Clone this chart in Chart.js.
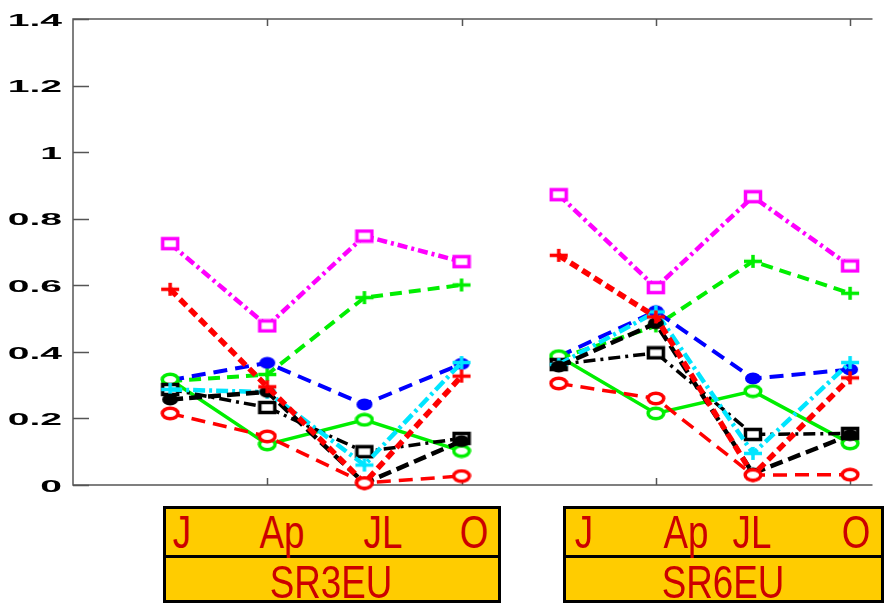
<!DOCTYPE html>
<html>
<head>
<meta charset="utf-8">
<script src="https://cdn.jsdelivr.net/npm/chart.js@4/dist/chart.umd.min.js"></script>
<style>
  html, body { margin: 0; padding: 0; background: #fff; }
  #wrap { position: relative; width: 884px; height: 606px; overflow: hidden; }
  #chart { position: absolute; left: 0; top: 0; }
  .box { position: absolute; background: #ffcc00; border: 3px solid #000; box-sizing: border-box; }
  .divider { position: absolute; left: 0; right: 0; height: 3px; background: #000; }
  .lbl { position: absolute; font-family: "Liberation Sans", Arial, sans-serif; font-size: 46px;
         line-height: 46px; color: #cc0000; white-space: nowrap;
         transform: translateX(-50%) scaleX(0.8); }
</style>
</head>
<body>
<div id="wrap">
  <canvas id="chart" width="884" height="606"></canvas>
</div>
<script>
// Sampling positions: four months per site, two sites side by side
const xPos = [1, 2, 3, 4, 5, 6, 7, 8];
const months = ['J', 'Ap', 'JL', 'O'];
const sites = ['SR3EU', 'SR6EU'];
const yTicks = [0, 0.2, 0.4, 0.6, 0.8, 1, 1.2, 1.4];
const xTicks = [2, 4, 6, 8];

// Series values (SR3EU months followed by SR6EU months)
const magentaSquare = [0.725, 0.478, 0.748, 0.671, 0.872, 0.593, 0.866, 0.658];
const redPlus       = [0.588, 0.295, 0.006, 0.327, 0.690, 0.505, 0.030, 0.322];
const greenPlus     = [0.312, 0.332, 0.563, 0.601, 0.380, 0.478, 0.672, 0.576];
const blueDot       = [0.315, 0.367, 0.242, 0.364, 0.386, 0.522, 0.320, 0.347];
const cyanPlus      = [0.287, 0.279, 0.060, 0.368, 0.362, 0.520, 0.095, 0.368];
const blackDot      = [0.257, 0.280, 0.005, 0.132, 0.356, 0.486, 0.035, 0.150];
const blackSquare   = [0.287, 0.233, 0.100, 0.140, 0.362, 0.397, 0.152, 0.155];
const greenCircle   = [0.317, 0.122, 0.196, 0.102, 0.387, 0.215, 0.282, 0.125];
const redCircle     = [0.215, 0.146, 0.006, 0.027, 0.305, 0.260, 0.030, 0.031];

// Marker glyphs drawn once on small canvases (slightly wide, like the plot)
function marker(kind, color) {
  const c = document.createElement('canvas');
  const w = 20, h = 15;
  c.width = w; c.height = h;
  const g = c.getContext('2d');
  g.strokeStyle = color; g.fillStyle = color; g.lineWidth = 3.5;
  if (kind === 'square') {
    g.fillStyle = '#fff';
    g.fillRect(2, 2, w - 4, h - 4);
    g.strokeRect(2.5, 2.5, w - 5, h - 5);
  } else if (kind === 'plus') {
    g.beginPath();
    g.moveTo(1, h / 2); g.lineTo(w - 1, h / 2);
    g.moveTo(w / 2, 1); g.lineTo(w / 2, h - 1);
    g.stroke();
  } else if (kind === 'dot') {
    g.beginPath();
    g.ellipse(w / 2, h / 2, 8, 6, 0, 0, Math.PI * 2);
    g.fill();
  } else if (kind === 'circle') {
    g.beginPath();
    g.ellipse(w / 2, h / 2, 7.8, 5.2, 0, 0, Math.PI * 2);
    g.fillStyle = '#fff';
    g.fill();
    g.stroke();
  }
  return c;
}

function series(values, color, kind, width, dash) {
  return {
    data: xPos.map((x, i) => ({ x: x, y: values[i] })),
    borderColor: color,
    borderWidth: width,
    borderDash: dash,
    pointStyle: marker(kind, color),
    pointRadius: 8,
    fill: false,
    tension: 0,
    clip: false,
    segment: {
      // the two sites are plotted as separate runs
      borderColor: ctx => ctx.p0DataIndex === 3 ? 'rgba(0,0,0,0)' : color
    }
  };
}

const datasets = [
  series(redCircle,     '#ff0000', 'circle', 3.5, [14, 8]),
  series(redPlus,       '#ff0000', 'plus',   5.5, [9, 5]),
  series(blackDot,      '#000000', 'dot',    4.5, [13, 6]),
  series(cyanPlus,      '#00e5ff', 'plus',   4.5, [12, 4, 3, 4]),
  series(blackSquare,   '#000000', 'square', 3.5, [12, 5, 3, 5]),
  series(greenCircle,   '#00ee00', 'circle', 3.5, []),
  series(blueDot,       '#0000ff', 'dot',    4,   [14, 8]),
  series(greenPlus,     '#00ee00', 'plus',   4,   [12, 7]),
  series(magentaSquare, '#ff00ff', 'square', 4.5, [10, 4, 3, 4])
];

// Frame, inward ticks and stretched bold tick labels
const framePlugin = {
  id: 'frame',
  beforeDatasetsDraw(chart) {
    const { ctx, chartArea: a, scales: { x, y } } = chart;
    ctx.save();
    ctx.strokeStyle = '#555';
    ctx.lineWidth = 1.5;
    ctx.beginPath();
    ctx.moveTo(a.right + 2, a.top); ctx.lineTo(a.left, a.top);
    ctx.lineTo(a.left, a.bottom); ctx.lineTo(a.right + 2, a.bottom);
    ctx.stroke();
    ctx.beginPath();
    yTicks.forEach(v => {
      const py = Math.round(y.getPixelForValue(v)) + 0.5;
      ctx.moveTo(a.left, py); ctx.lineTo(a.left + 16, py);
    });
    xTicks.forEach(v => {
      const px = Math.round(x.getPixelForValue(v)) + 0.5;
      ctx.moveTo(px, a.bottom); ctx.lineTo(px, a.bottom - 7);
      ctx.moveTo(px, a.top); ctx.lineTo(px, a.top + 7);
    });
    ctx.stroke();
    ctx.fillStyle = '#000';
    ctx.font = 'bold 17px "Liberation Sans", Arial, sans-serif';
    ctx.textAlign = 'right';
    ctx.textBaseline = 'middle';
    yTicks.forEach(v => {
      ctx.save();
      ctx.translate(a.left - 11, y.getPixelForValue(v) + 2);
      ctx.scale(2.3, 1);
      ctx.fillText(String(v), 0, 0);
      ctx.restore();
    });
    ctx.restore();
  }
};

new Chart(document.getElementById('chart'), {
  type: 'line',
  data: { datasets },
  options: {
    responsive: false,
    animation: false,
    devicePixelRatio: 1,
    layout: { padding: { left: 73, top: 19, right: 0, bottom: 121 } },
    plugins: { legend: { display: false }, tooltip: { enabled: false } },
    scales: {
      x: { type: 'linear', min: 0, max: 8.21, display: false },
      y: { type: 'linear', min: 0, max: 1.4, display: false }
    }
  },
  plugins: [framePlugin]
});

// Month / site label boxes under the plot
const wrap = document.getElementById('wrap');
const boxes = [
  { left: 163, width: 338, months: [182, 282, 383, 474], center: 331 },
  { left: 563, width: 321, months: [584, 686, 752, 856], center: 723 }
];
boxes.forEach((b, i) => {
  const box = document.createElement('div');
  box.className = 'box';
  box.style.left = b.left + 'px';
  box.style.top = '506px';
  box.style.width = b.width + 'px';
  box.style.height = '97px';
  const div = document.createElement('div');
  div.className = 'divider';
  div.style.top = '46px';
  box.appendChild(div);
  wrap.appendChild(box);
  months.forEach((m, k) => {
    const t = document.createElement('div');
    t.className = 'lbl';
    t.textContent = m;
    t.style.left = b.months[k] + 'px';
    t.style.top = '509px';
    wrap.appendChild(t);
  });
  const s = document.createElement('div');
  s.className = 'lbl';
  s.textContent = sites[i];
  s.style.left = b.center + 'px';
  s.style.top = '559px';
  wrap.appendChild(s);
});
</script>
</body>
</html>
